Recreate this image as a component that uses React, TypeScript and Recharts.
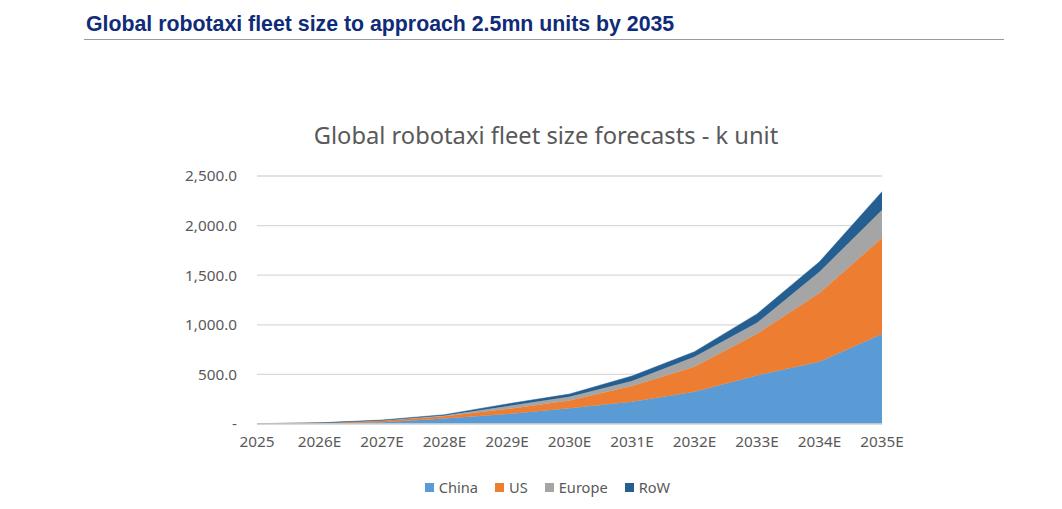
import React from "react";
import { AreaChart, Area, XAxis, YAxis, CartesianGrid } from "recharts";

const years = ["2025", "2026E", "2027E", "2028E", "2029E", "2030E", "2031E", "2032E", "2033E", "2034E", "2035E"];
const china = [2, 6, 18, 55, 101, 158, 225, 326, 490, 628, 907];
const us = [1, 4, 14, 22, 50, 80, 158, 252, 420, 692, 968];
const europe = [0.3, 1, 4, 9, 29, 36, 50, 100, 110, 215, 282];
const row = [0.2, 1, 4, 8, 22, 28, 51, 51, 90, 101, 185];
const yTicks = [0, 500, 1000, 1500, 2000, 2500];

const seriesDefs = [
  { key: "China", color: "#5B9BD5" },
  { key: "US", color: "#ED7D31" },
  { key: "Europe", color: "#A5A5A5" },
  { key: "RoW", color: "#255E91" },
];

const data = years.map((y, i) => ({
  year: y,
  China: china[i],
  US: us[i],
  Europe: europe[i],
  RoW: row[i],
}));

const fmt = (v: number) =>
  v === 0 ? "-" : v.toLocaleString("en-US", { minimumFractionDigits: 1, maximumFractionDigits: 1 });

const FONT = "'Noto Sans', 'Open Sans', sans-serif";

export default function App() {
  return (
    <div style={{ position: "absolute", left: 0, top: 0, width: 1062, height: 509, background: "#fff", overflow: "hidden" }}>
      <div
        style={{
          position: "absolute",
          left: 86,
          top: 12,
          fontFamily: "'Liberation Sans', Arial, sans-serif",
          fontWeight: "bold",
          fontSize: 21.3,
          color: "#0F2C78",
          whiteSpace: "nowrap",
          lineHeight: "24px",
        }}
      >
        Global robotaxi fleet size to approach 2.5mn units by 2035
      </div>
      <div style={{ position: "absolute", left: 84, top: 39, width: 920, height: 1, background: "#9A9A9A" }} />
      <div
        style={{
          position: "absolute",
          left: 0,
          width: 1092,
          top: 119,
          textAlign: "center",
          fontFamily: FONT,
          fontSize: 23.7,
          color: "#595959",
          whiteSpace: "nowrap",
          lineHeight: "32px",
        }}
      >
        Global robotaxi fleet size forecasts - k unit
      </div>
      <div style={{ position: "absolute", left: 0, top: 0 }}>
        <AreaChart width={1062} height={509} data={data} margin={{ top: 176, right: 180, left: 0, bottom: 0 }}>
          <CartesianGrid vertical={false} stroke="#D9D9D9" strokeWidth={1.3} />
          <XAxis
            dataKey="year"
            axisLine={{ stroke: "#D9D9D9", strokeWidth: 1.3 }}
            tickLine={false}
            height={85}
            tickMargin={6}
            interval={0}
            tick={{ fill: "#595959", fontSize: 15.3, fontFamily: FONT }}
          />
          <YAxis
            width={257}
            domain={[0, 2500]}
            ticks={yTicks}
            axisLine={false}
            tickLine={false}
            tickMargin={14}
            tickFormatter={fmt}
            tick={{ fill: "#595959", fontSize: 15.3, fontFamily: FONT }}
          />
          {seriesDefs.map((s) => (
            <Area
              key={s.key}
              type="linear"
              dataKey={s.key}
              stackId="a"
              stroke={s.color}
              strokeWidth={0.5}
              fill={s.color}
              fillOpacity={1}
              isAnimationActive={false}
              dot={false}
              activeDot={false}
            />
          ))}
        </AreaChart>
      </div>
      <div
        style={{
          position: "absolute",
          left: 0,
          width: 1112,
          top: 478,
          display: "flex",
          justifyContent: "center",
          fontFamily: FONT,
          fontSize: 14.6,
          color: "#595959",
          lineHeight: "18px",
        }}
      >
        {seriesDefs.map((s) => (
          <div key={s.key} style={{ display: "flex", alignItems: "center", marginRight: 17 }}>
            <span style={{ display: "inline-block", width: 9, height: 9, background: s.color, marginRight: 5 }} />
            <span>{s.key}</span>
          </div>
        ))}
      </div>
    </div>
  );
}
